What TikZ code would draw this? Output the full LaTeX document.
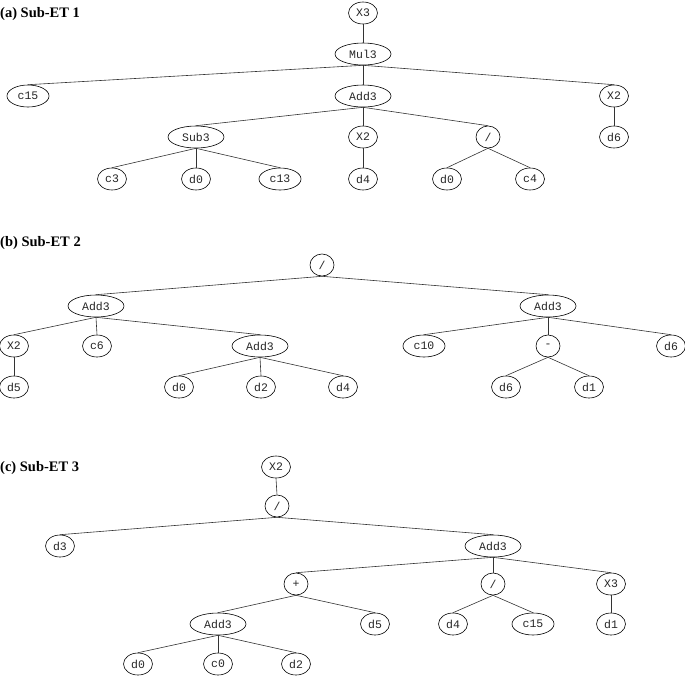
\documentclass[tikz,border=0pt]{standalone}
\usepackage{fontspec}
\setmainfont{Liberation Serif}
\newfontfamily\monof{Liberation Mono}
\usetikzlibrary{shapes.geometric}
\tikzset{
  nd/.style={draw=black, line width=0.6pt, ellipse, inner sep=0pt, minimum height=22pt,
     font=\monof\fontsize{11.5}{13}\selectfont, text=black!85},
  leaf/.style={nd, minimum width=29pt},
  wide/.style={nd, minimum width=42pt},
  big/.style={nd, minimum width=56pt},
  op/.style={nd, minimum width=24pt},
  ttl/.style={anchor=base west, inner sep=0pt, font=\bfseries\fontsize{14.5}{16}\selectfont},
  ed/.style={draw=black!80, line width=0.6pt}
}
\begin{document}
\begin{tikzpicture}[x=1pt,y=-1pt]
\useasboundingbox (0,0) rectangle (685,675);
% ---------- (a)
\node[ttl] (ta) at (0,17.5) {(a) Sub-ET 1};
\node[leaf] (a1) at (363,13) {X3};
\node[big]  (a2) at (363,54) {Mul3};
\node[wide] (a3) at (28,96) {c15};
\node[big]  (a4) at (363,96) {Add3};
\node[leaf] (a5) at (614,96) {X2};
\node[big]  (a6) at (196,137) {Sub3};
\node[leaf] (a7) at (363,137) {X2};
\node[op]   (a8) at (488,137) {/};
\node[leaf] (a9) at (614,137) {d6};
\node[leaf] (a10) at (112,179) {c3};
\node[leaf] (a11) at (196,179) {d0};
\node[wide] (a12) at (280,179) {c13};
\node[leaf] (a13) at (363,179) {d4};
\node[leaf] (a14) at (447,179) {d0};
\node[leaf] (a15) at (530,179) {c4};
\foreach \p/\c in {a1/a2,a2/a3,a2/a4,a2/a5,a4/a6,a4/a7,a4/a8,a5/a9,a6/a10,a6/a11,a6/a12,a7/a13,a8/a14,a8/a15}
  \draw[ed] (\p.south) -- (\c.north);
% ---------- (b)
\node[ttl] (tb) at (0,246) {(b) Sub-ET 2};
\node[op]   (b1) at (322,265) {/};
\node[big]  (b2) at (96,306) {Add3};
\node[big]  (b3) at (548,306) {Add3};
\node[leaf] (b4) at (14,346) {X2};
\node[leaf] (b5) at (97,346) {c6};
\node[big]  (b6) at (260,346) {Add3};
\node[wide] (b7) at (424,346) {c10};
\node[op]   (b8) at (548,346) {-};
\node[leaf] (b9) at (671,346) {d6};
\node[leaf] (b10) at (14,387) {d5};
\node[leaf] (b11) at (179,387) {d0};
\node[leaf] (b12) at (261,387) {d2};
\node[leaf] (b13) at (343,387) {d4};
\node[leaf] (b14) at (506,387) {d6};
\node[leaf] (b15) at (589,387) {d1};
\foreach \p/\c in {b1/b2,b1/b3,b2/b4,b2/b5,b2/b6,b3/b7,b3/b8,b3/b9,b4/b10,b6/b11,b6/b12,b6/b13,b8/b14,b8/b15}
  \draw[ed] (\p.south) -- (\c.north);
% ---------- (c)
\node[ttl] (tc) at (0,471) {(c) Sub-ET 3};
\node[leaf] (c1) at (276,467) {X2};
\node[op]   (c2) at (277,506) {/};
\node[leaf] (c3) at (60,546) {d3};
\node[big]  (c4) at (493,546) {Add3};
\node[op]   (c5) at (296,584) {+};
\node[op]   (c6) at (493,584) {/};
\node[leaf] (c7) at (611,584) {X3};
\node[big]  (c8) at (218,624) {Add3};
\node[leaf] (c9) at (375,624) {d5};
\node[leaf] (c10) at (453,624) {d4};
\node[wide] (c11) at (533,624) {c15};
\node[leaf] (c12) at (611,624) {d1};
\node[leaf] (c13) at (138,664) {d0};
\node[leaf] (c14) at (218,664) {c0};
\node[leaf] (c15) at (296,664) {d2};
\foreach \p/\c in {c1/c2,c2/c3,c2/c4,c4/c5,c4/c6,c4/c7,c5/c8,c5/c9,c6/c10,c6/c11,c7/c12,c8/c13,c8/c14,c8/c15}
  \draw[ed] (\p.south) -- (\c.north);
\end{tikzpicture}
\end{document}
